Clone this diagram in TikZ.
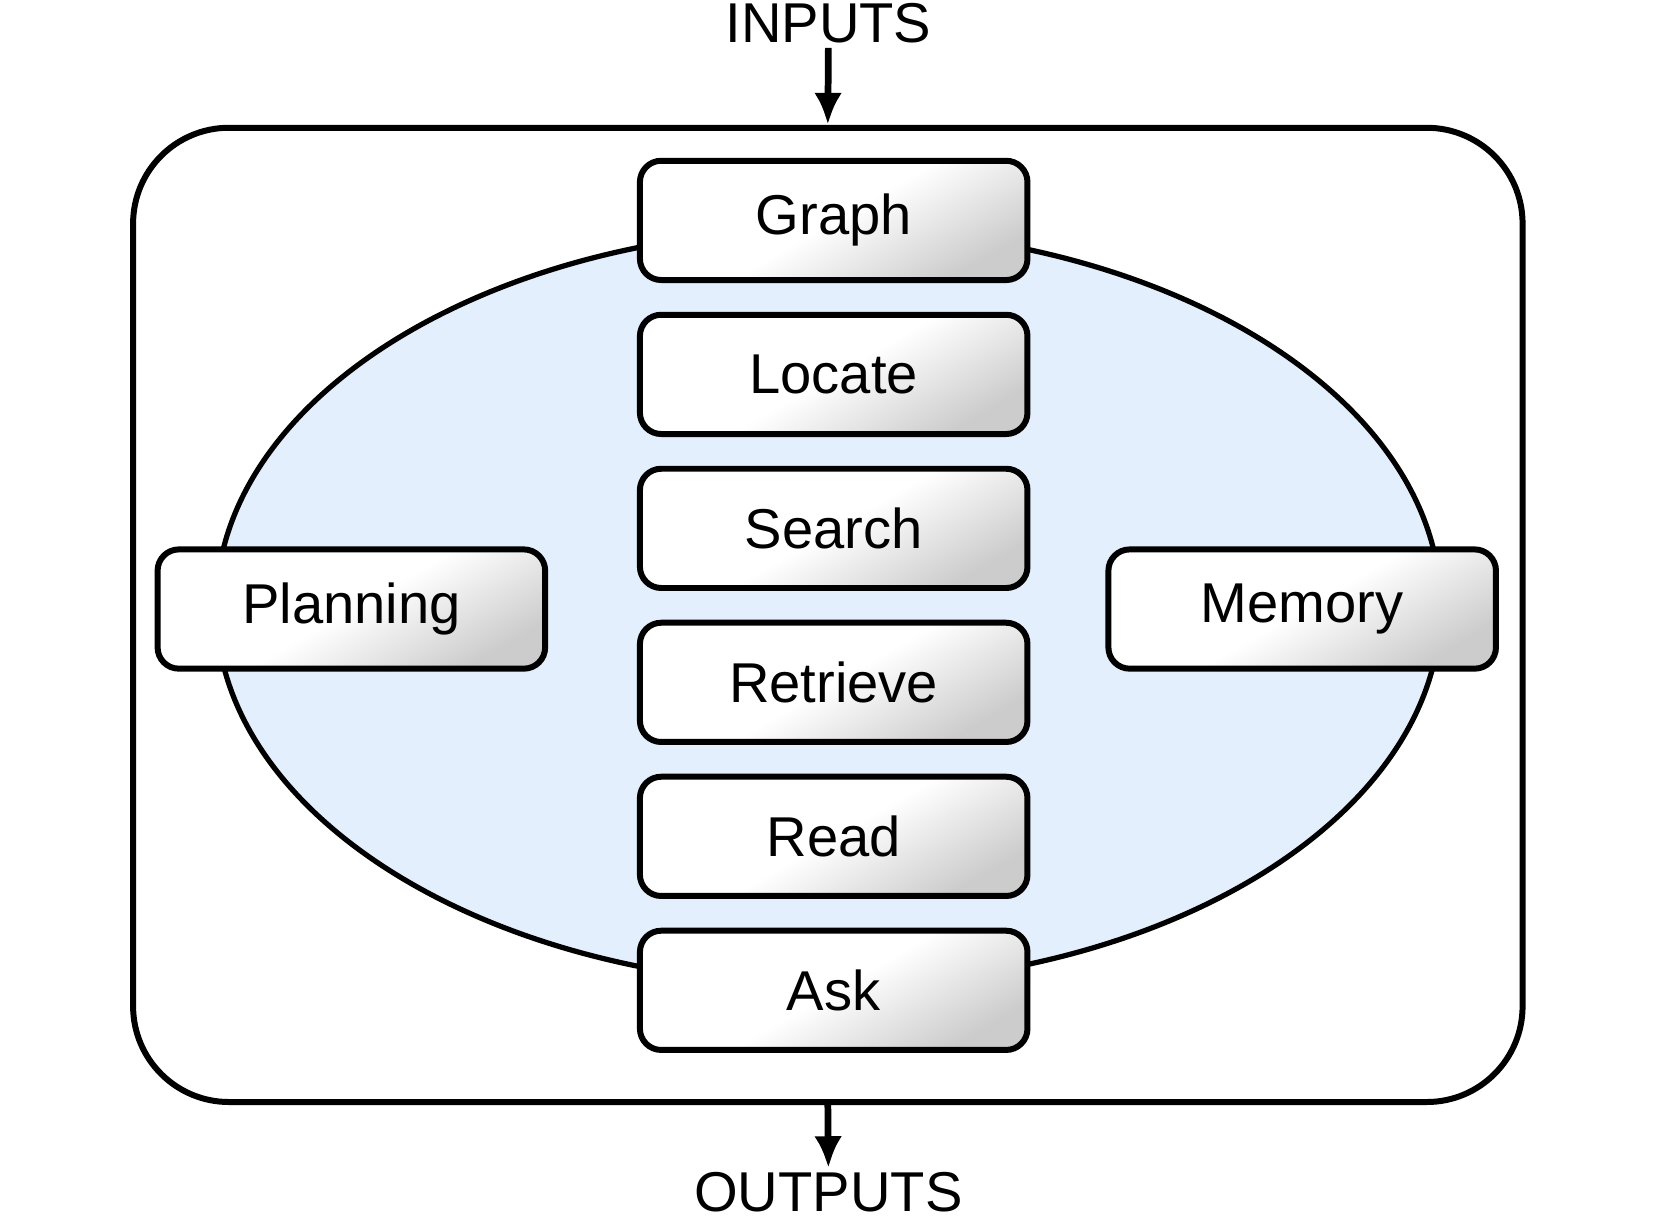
\documentclass[tikz,border=0pt]{standalone}
\usepackage{fontspec}
\setmainfont{Liberation Sans}
\usetikzlibrary{positioning,arrows.meta}
\definecolor{paleblue}{HTML}{E3EFFC}
\tikzset{
  tool/.style = {draw, line width=1.6pt, rounded corners=2mm, minimum width=36.4mm, minimum height=11.2mm,
    top color=white, bottom color=gray!40, middle color=white, shading angle=30, font=\fontsize{15}{17}\selectfont},
  io/.style = {font=\fontsize{15}{17}\selectfont, inner sep=1pt},
  flow/.style = {-{Latex[length=3mm,width=2.6mm]}, line width=1.8pt}
}
\begin{document}
\begin{tikzpicture}[x=0.1mm, y=-0.1mm]
  \useasboundingbox (0,0) rectangle (1560,1145);
  \node[draw, line width=1.6pt, rounded corners=9mm, minimum width=130.5mm, minimum height=91.5mm] (frame) at (777.5,577.5) {};
  \draw[line width=1.4pt, fill=paleblue] (778,570) ellipse [x radius=575, y radius=355];
  % central column
  \node[tool] (graph) at (783,207) {Graph};
  \node[tool, below=2.7mm of graph] (locate) {Locate};
  \node[tool, below=2.7mm of locate] (search) {Search};
  \node[tool, below=2.7mm of search] (retrieve) {Retrieve};
  \node[tool, below=2.7mm of retrieve] (read) {Read};
  \node[tool, below=2.7mm of read] (ask) {Ask};
  % sides
  \node[tool] (planning) at (330,572) {Planning};
  \node[tool] (memory) at (1223,572) {Memory};
  % in / out
  \node[io] (inputs) at (778,22) {INPUTS};
  \node[io] (outputs) at (778,1120) {OUTPUTS};
  \draw[flow] (inputs.south) -- (frame.north);
  \draw[flow] (frame.south) -- (outputs.north);
\end{tikzpicture}
\end{document}
